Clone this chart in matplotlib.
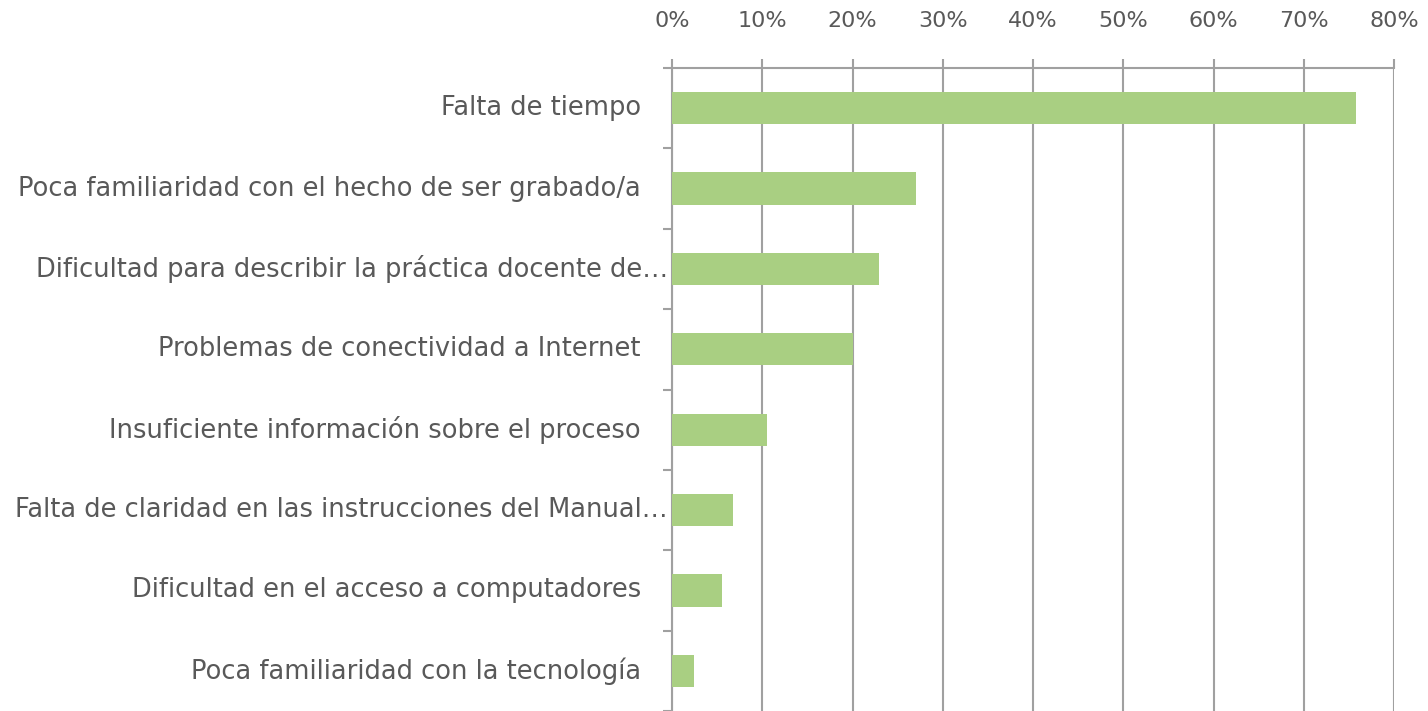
import numpy as np
import matplotlib.pyplot as plt
from matplotlib.ticker import PercentFormatter

# data, top to bottom as in the chart
categories = [
    "Falta de tiempo",
    "Poca familiaridad con el hecho de ser grabado/a",
    "Dificultad para describir la práctica docente de…",
    "Problemas de conectividad a Internet",
    "Insuficiente información sobre el proceso",
    "Falta de claridad en las instrucciones del Manual…",
    "Dificultad en el acceso a computadores",
    "Poca familiaridad con la tecnología",
]
values = [75.8, 27.0, 22.9, 20.0, 10.5, 6.8, 5.5, 2.4]
truncated = [False, False, True, False, False, True, False, False]
xticks = [0, 10, 20, 30, 40, 50, 60, 70, 80]

GRID = "#a0a0a0"
TEXT = "#595959"
BAR = "#a9cf82"

plt.rcParams['font.family'] = ['DejaVu Sans']

fig = plt.figure(figsize=(14.28, 7.11), dpi=100)
ax = fig.add_axes([672 / 1428, 0.0, (1394 - 672) / 1428, 1 - 68 / 711])

y = np.arange(len(categories))
ax.barh(y, values, height=0.4, color=BAR, zorder=3)

ax.set_xlim(0, 80)
ax.set_ylim(len(categories) - 0.5, -0.5)

ax.xaxis.tick_top()
ax.set_xticks(xticks)
ax.xaxis.set_major_formatter(PercentFormatter(decimals=0))
ax.tick_params(axis='x', length=6.5, width=1.5, color=GRID, pad=20,
               labelsize=16, labelcolor=TEXT)
ax.grid(axis='x', color=GRID, linewidth=1.5, zorder=0)

ax.set_yticks(np.arange(len(categories) + 1) - 0.5)
ax.set_yticklabels([])
ax.tick_params(axis='y', length=6.5, width=1.5, color=GRID)

for i, (lab, tr) in enumerate(zip(categories, truncated)):
    off = -4 if tr else -31
    ax.annotate(lab, xy=(0, i), xycoords=('axes fraction', 'data'),
                xytext=(off, 0), textcoords='offset pixels',
                ha='right', va='center', fontsize=18.5, color=TEXT)

for s in ['right', 'bottom']:
    ax.spines[s].set_visible(False)
for s in ['left', 'top']:
    ax.spines[s].set_color(GRID)
    ax.spines[s].set_linewidth(1.5)

fig.savefig("out.png", dpi=100)
